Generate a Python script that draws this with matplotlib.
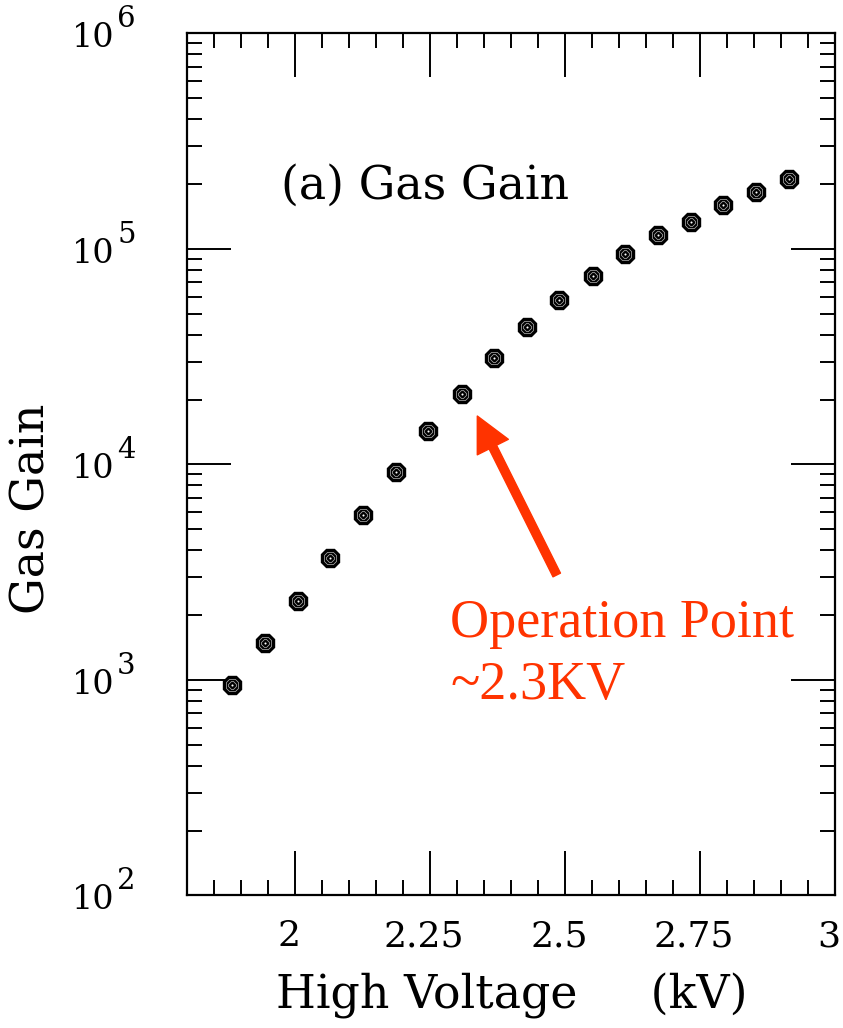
import matplotlib
matplotlib.use("Agg")
import matplotlib.pyplot as plt
from matplotlib.ticker import FixedLocator, LogLocator, NullFormatter
from matplotlib.transforms import blended_transform_factory, offset_copy, ScaledTranslation

# Gas gain versus high voltage
voltage_kv = [1.884, 1.944, 2.005, 2.065, 2.125, 2.187, 2.247, 2.309, 2.369,
              2.429, 2.489, 2.551, 2.611, 2.672, 2.733, 2.793, 2.853, 2.914]
gas_gain = [947, 1479, 2331, 3690, 5825, 9220, 14340, 21220, 31070,
            43270, 57720, 74640, 94690, 116400, 133300, 159400, 183100, 210300]

x_ticks = [2.0, 2.25, 2.5, 2.75, 3.0]
x_tick_labels = ["2", "2.25", "2.5", "2.75", "3"]
y_decades = [2, 3, 4, 5, 6]

# operating-point annotation
op_text_lines = ["Operation Point", "~2.3KV"]
op_arrow_tip = (2.3376, 16770)
op_arrow_tail = (2.4847, 3068)

plt.rcParams["font.family"] = ["DejaVu Serif"]

W, H = 843, 1028
fig = plt.figure(figsize=(W / 100, H / 100), dpi=100)
ax = fig.add_axes([187 / W, 1 - 895.4 / H, 648 / W, 862 / H])

ax.set_yscale("log")
ax.set_xlim(1.8, 3.0)
ax.set_ylim(1e2, 1e6)

# concentric octagon markers
ax.plot(voltage_kv, gas_gain, linestyle="none", marker="8", ms=14.5,
        mfc="black", mec="black", mew=1.0, zorder=3)
ax.plot(voltage_kv, gas_gain, linestyle="none", marker="8", ms=10,
        mfc="none", mec="#b8b8b8", mew=0.5, zorder=4)
ax.plot(voltage_kv, gas_gain, linestyle="none", marker="8", ms=5.5,
        mfc="none", mec="#b8b8b8", mew=0.5, zorder=4)
ax.plot(voltage_kv, gas_gain, linestyle="none", marker="o", ms=1.5,
        mfc="white", mec="none", zorder=5)

# axes frame and ticks
for sp in ax.spines.values():
    sp.set_linewidth(1.6)
ax.xaxis.set_major_locator(FixedLocator(x_ticks))
ax.xaxis.set_minor_locator(FixedLocator([1.8 + 0.05 * i for i in range(25)]))
ax.set_xticklabels(x_tick_labels)
ax.yaxis.set_major_locator(FixedLocator([10.0 ** d for d in y_decades]))
ax.yaxis.set_minor_locator(LogLocator(base=10, subs=range(2, 10)))
ax.yaxis.set_major_formatter(NullFormatter())
ax.yaxis.set_minor_formatter(NullFormatter())

ax.tick_params(which="both", direction="in", top=True, right=True, width=1.4)
ax.tick_params(which="major", length=32)
ax.tick_params(which="minor", length=11)
ax.tick_params(axis="x", which="major", labelsize=26, pad=17)

shift = ScaledTranslation(-6 / 100, 0, fig.dpi_scale_trans)
for lab in ax.get_xticklabels():
    lab.set_transform(lab.get_transform() + shift)

# decade labels: base "10" with a full-height exponent
ytrans = blended_transform_factory(ax.transAxes, ax.transData)
for d in y_decades:
    base_tr = offset_copy(ytrans, fig=fig, x=0, y=-5, units="dots")
    exp_tr = offset_copy(ytrans, fig=fig, x=0, y=14, units="dots")
    ax.text((115 - 187) / 648, 10.0 ** d, "10", transform=base_tr,
            fontsize=24, ha="right", va="center", clip_on=False)
    ax.text((117 - 187) / 648, 10.0 ** d, str(d), transform=exp_tr,
            fontsize=21, ha="left", va="center", clip_on=False)

# axis titles
fig.text(512 / W, 1 - 1008.7 / H, "High Voltage     (kV)", fontsize=33,
         ha="center", va="baseline")
fig.text(32 / W, 1 - 509 / H, "Gas Gain", fontsize=33,
         rotation=90, ha="center", va="center")
ax.text((281 - 187) / 648, 1 - (186 - 33.4) / 862, "(a) Gas Gain",
        transform=ax.transAxes, fontsize=33, ha="left", va="center")

# operating point note with arrow
red = "#ff3300"
ax.annotate("", xy=op_arrow_tip, xytext=op_arrow_tail,
            arrowprops=dict(facecolor=red, edgecolor=red, width=6,
                            headwidth=25, headlength=25, shrink=0.0))
ax.text((450 - 187) / 648, 1 - (637 - 33.4) / 862, op_text_lines[0],
        transform=ax.transAxes, fontsize=39, color=red,
        family="Liberation Serif", ha="left", va="baseline")
ax.text((450 - 187) / 648, 1 - (699 - 33.4) / 862, op_text_lines[1],
        transform=ax.transAxes, fontsize=39, color=red,
        family="Liberation Serif", ha="left", va="baseline")

fig.savefig("out.png", dpi=100)
